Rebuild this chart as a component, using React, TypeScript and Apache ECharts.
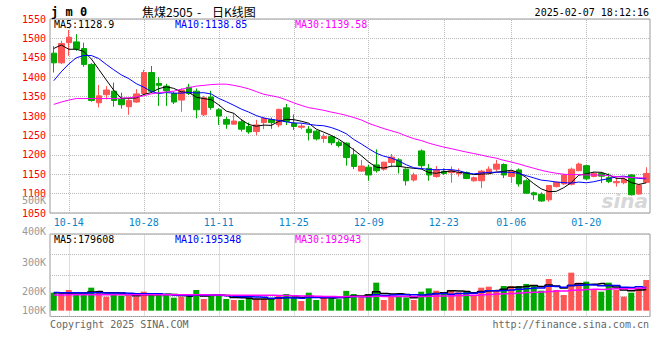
import React, { useEffect, useRef } from 'react';
import * as echarts from 'echarts';

const dates = [
  '10-10','10-11','10-14','10-15','10-16','10-17','10-18','10-21','10-22','10-23','10-24','10-25','10-28','10-29','10-30','10-31',
  '11-01','11-04','11-05','11-06','11-07','11-08','11-11','11-12','11-13','11-14','11-15','11-18','11-19','11-20','11-21','11-22','11-25','11-26','11-27','11-28','11-29',
  '12-02','12-03','12-04','12-05','12-06','12-09','12-10','12-11','12-12','12-13','12-16','12-17','12-18','12-19','12-20','12-23','12-24','12-25','12-26','12-27','12-30','12-31',
  '01-02','01-03','01-06','01-07','01-08','01-09','01-10','01-13','01-14','01-15','01-16','01-17','01-20','01-21','01-22','01-23','01-24','01-27',
  '02-05','02-06','02-07'
];

const labelDates = ['10-14','10-28','11-11','11-25','12-09','12-23','01-06','01-20'];

const openP = [1462,1437,1489,1491,1474,1433,1334,1355,1364,1343,1324,1336,1358,1412,1384,1377,1358,1341,1374,1364,
  1303,1349,1316,1291,1279,1285,1273,1260,1283,1291,1277,1321,1281,1271,1266,1261,1242,1247,1232,1230,
  1200,1158,1168,1174,1163,1180,1187,1163,1135,1210,1165,1144,1157,1154,1151,1154,1133,1133,1154,1163,
  1175,1144,1161,1133,1102,1098,1084,1118,1125,1124,1159,1172,1144,1152,1141,1128,1128,1148,1099,1129];
const closeP = [1437,1487,1503,1473,1433,1340,1352,1367,1340,1329,1340,1357,1412,1364,1379,1365,1336,1367,1358,1316,
  1347,1322,1300,1279,1287,1266,1259,1277,1294,1283,1317,1286,1273,1274,1257,1241,1247,1231,1224,1193,
  1170,1171,1148,1159,1181,1194,1170,1133,1148,1172,1148,1161,1152,1159,1154,1139,1141,1158,1163,1176,
  1148,1157,1125,1101,1097,1081,1121,1129,1148,1163,1176,1138,1152,1145,1131,1131,1137,1097,1122,1152];
const lowP = [1412,1434,1455,1468,1427,1337,1322,1343,1324,1319,1303,1334,1353,1360,1326,1326,1331,1311,1354,1294,
  1300,1316,1277,1267,1277,1260,1254,1250,1266,1267,1271,1277,1264,1266,1237,1237,1231,1225,1219,1172,
  1163,1156,1133,1154,1159,1168,1152,1121,1131,1165,1133,1141,1148,1128,1144,1137,1131,1114,1150,1157,
  1140,1127,1118,1099,1084,1079,1079,1116,1122,1121,1158,1135,1142,1127,1127,1118,1124,1095,1097,1127];
const highP = [1480,1494,1522,1511,1489,1436,1380,1377,1386,1360,1346,1369,1419,1429,1400,1383,1363,1371,1383,1371,
  1352,1365,1320,1298,1307,1292,1283,1290,1298,1296,1319,1331,1304,1281,1274,1264,1255,1250,1237,1232,
  1217,1187,1174,1214,1182,1202,1191,1165,1154,1214,1176,1171,1165,1170,1165,1157,1144,1161,1170,1187,
  1178,1161,1165,1137,1105,1103,1122,1131,1151,1167,1180,1174,1156,1156,1152,1142,1141,1150,1125,1168];

const volume = [151700,145800,174500,137400,137400,193900,166100,118000,137400,126500,
  123900,118000,160200,145800,132400,132400,109600,118000,118000,174500,
  98600,137400,132400,98600,90200,90200,112100,98600,98600,98600,
  123900,140800,109600,81800,151700,90200,109600,103700,96900,166900,
  140800,112100,140800,236000,90200,123900,123900,112100,90200,160200,
  188000,168600,145800,174500,154300,160200,123900,193900,202300,174500,
  208200,208200,208200,225100,208200,168600,267200,174500,132400,320300,
  236000,244500,182900,160200,236000,174500,118000,151700,193900,258800];

// moving-average values before enough history exists
const ma5Early = [1474,1483,1472,1472];
const ma10Early = [1391,1414,1434,1450,1456,1456,1448,1433,1419];
const ma30Early = [1330,1336,1341,1345,1345,1345,1345,1345,1345,1346,1347,1349,1352,1357,1360,1362,1364,1369,1373,1377,1379,1381,1382,1382,1379,1375,1370,1363,1356];
const volMa5Early = [152000,150000,150000,148000];
const volMa10Early = [153000,152000,152000,151000,150000,152000,152000,150000,149000];
const volMa30Early = [133000,133000,134000,134000,134000,135000,135000,135000,135000,134000,134000,134000,134000,134000,134000,134000,134000,134000,134000,134000,134000,133000,132000,131000,130000,129000,129000,129000,129000];

const priceTicks = { min: 1050, max: 1550, step: 50 };
const volTickLabels = ['500K','400K','300K','200K','100K'];
const volTickLabelY = [200, 231, 262, 291, 310];

const titleParts = ['焦煤2505', '-', '日K线图'];
const titleX = [142, 197, 212];
const mainLegend = ['MA5:1128.9','MA10:1138.85','MA30:1139.58'];
const volLegend = ['MA5:179608','MA10:195348','MA30:192943'];
const legendColors = ['#000000','#0000ff','#ff00ff'];
const legendX = [54, 175, 295];

const UP = '#ff5555';
const DOWN = '#00a800';
const MONO = '"DejaVu Sans Mono", "Liberation Mono", monospace';
const CJK = '"Noto Sans CJK SC", sans-serif';

function movingAvg(values: number[], n: number, early: number[]) {
  return values.map((_, i) => {
    if (i < n - 1) return early[i];
    let s = 0;
    for (let k = i - n + 1; k <= i; k++) s += values[k];
    return Math.round((s / n) * 100) / 100;
  });
}

function txt(text: string, x: number, y: number, fill: string, opts: any = {}) {
  return {
    type: 'text',
    x,
    y,
    silent: true,
    z: 100,
    style: {
      text,
      fill,
      fontSize: opts.fontSize || 10,
      fontFamily: opts.fontFamily || MONO,
      fontWeight: opts.fontWeight || 'normal',
      fontStyle: opts.fontStyle || 'normal',
      align: opts.align || 'left',
      textAlign: opts.align || 'left',
      verticalAlign: 'middle',
      textVerticalAlign: 'middle',
      opacity: opts.opacity == null ? 1 : opts.opacity,
    },
  };
}

export default function App() {
  const ref = useRef<HTMLDivElement>(null);
  useEffect(() => {
    const chart = echarts.init(ref.current!, null, { renderer: 'svg' });
    const candles = dates.map((_, i) => [openP[i], closeP[i], lowP[i], highP[i]]);
    const ma5 = movingAvg(closeP, 5, ma5Early);
    const ma10 = movingAvg(closeP, 10, ma10Early);
    const ma30 = movingAvg(closeP, 30, ma30Early);
    const vma5 = movingAvg(volume, 5, volMa5Early);
    const vma10 = movingAvg(volume, 10, volMa10Early);
    const vma30 = movingAvg(volume, 30, volMa30Early);
    const volBars = volume.map((v, i) => ({
      value: v,
      itemStyle: { color: closeP[i] >= openP[i] ? UP : DOWN },
    }));
    const showLabel = (_: number, value: string) => labelDates.indexOf(value) >= 0;

    const graphics: any[] = [
      txt('j m 0', 51, 12, '#000', { fontSize: 12, fontWeight: 'bold' }),
      txt('2025-02-07 18:12:16', 649, 12, '#000', { align: 'right' }),
      txt('Copyright 2025 SINA.COM', 50, 324, '#666'),
      txt('http://finance.sina.com.cn', 649, 324, '#666', { align: 'right' }),
      txt('sina', 648, 201, '#cccccc', { align: 'right', fontSize: 20, fontWeight: 'bold', fontStyle: 'italic', fontFamily: 'Verdana, "DejaVu Sans", sans-serif', opacity: 0.8 }),
    ];
    titleParts.forEach((t, k) => graphics.push(txt(t, titleX[k], 11, '#000', { fontSize: 12, fontFamily: CJK })));
    mainLegend.forEach((t, k) => graphics.push(txt(t, legendX[k], 24, legendColors[k])));
    volLegend.forEach((t, k) => graphics.push(txt(t, legendX[k], 239, legendColors[k])));
    volTickLabels.forEach((t, k) => graphics.push(txt(t, 46, volTickLabelY[k], '#999', { align: 'right' })));

    const lineS = (name: string, data: number[], color: string, xi: number, yi: number, extra: any = {}) => ({
      name,
      type: 'line',
      xAxisIndex: xi,
      yAxisIndex: yi,
      data,
      showSymbol: false,
      symbol: 'none',
      silent: true,
      lineStyle: { color, width: 1 },
      itemStyle: { color },
      z: 5,
      ...extra,
    });

    chart.setOption({
      animation: false,
      backgroundColor: '#ffffff',
      grid: [
        { left: 50, top: 19, width: 600, height: 194, show: true, borderColor: '#999', borderWidth: 1 },
        { left: 50, top: 234, width: 600, height: 82.5, show: true, borderColor: '#999', borderWidth: 1 },
      ],
      xAxis: [
        {
          type: 'category', gridIndex: 0, data: dates, boundaryGap: true,
          axisLine: { show: false },
          axisTick: { show: true, alignWithLabel: true, interval: showLabel, inside: true, length: 194, lineStyle: { color: '#bbb', type: 'dotted' } },
          axisLabel: { interval: showLabel, color: '#0a84c8', fontSize: 10, fontFamily: MONO, margin: 4 },
          splitLine: { show: false },
        },
        {
          type: 'category', gridIndex: 1, data: dates, boundaryGap: true,
          axisLine: { show: false },
          axisTick: { show: true, alignWithLabel: true, interval: showLabel, inside: true, length: 82.5, lineStyle: { color: '#bbb', type: 'dotted' } },
          axisLabel: { show: false, interval: showLabel },
          splitLine: { show: false },
        },
      ],
      yAxis: [
        {
          type: 'value', gridIndex: 0, min: priceTicks.min, max: priceTicks.max, interval: priceTicks.step,
          axisLine: { show: false }, axisTick: { show: false },
          axisLabel: { color: '#ff0000', fontSize: 10, fontFamily: MONO, margin: 4, formatter: (v: number) => String(v) },
          splitLine: { show: true, lineStyle: { color: '#bbb', type: 'dotted' } },
        },
        {
          type: 'value', gridIndex: 1, min: 0, max: 4, interval: 1,
          axisLine: { show: false }, axisTick: { show: false }, axisLabel: { show: false },
          splitLine: { show: true, lineStyle: { color: '#bbb', type: 'dotted' } },
        },
        {
          type: 'value', gridIndex: 1, min: -49000, max: 646000, show: false,
          splitLine: { show: false },
        },
      ],
      series: [
        {
          type: 'candlestick', xAxisIndex: 0, yAxisIndex: 0, data: candles, barWidth: 6, silent: true,
          itemStyle: { color: UP, color0: DOWN, borderColor: UP, borderColor0: DOWN, borderWidth: 1 },
          z: 3,
        },
        lineS('MA5', ma5, '#000000', 0, 0),
        lineS('MA10', ma10, '#0000ff', 0, 0),
        lineS('MA30', ma30, '#ff00ff', 0, 0),
        { type: 'bar', xAxisIndex: 1, yAxisIndex: 2, data: volBars, barWidth: 6, silent: true, z: 3 },
        lineS('VMA5', vma5, '#000000', 1, 2, { step: 'middle', lineStyle: { color: '#000000', width: 1.5 } }),
        lineS('VMA10', vma10, '#0000ff', 1, 2, { step: 'middle', lineStyle: { color: '#0000ff', width: 1.5 } }),
        lineS('VMA30', vma30, '#ff00ff', 1, 2, { step: 'middle', lineStyle: { color: '#ff00ff', width: 1.5 } }),
      ],
      graphic: graphics,
    });
    return () => chart.dispose();
  }, []);
  return <div ref={ref} style={{ position: 'fixed', left: 0, top: 0, width: 660, height: 360, background: '#fff' }} />;
}
